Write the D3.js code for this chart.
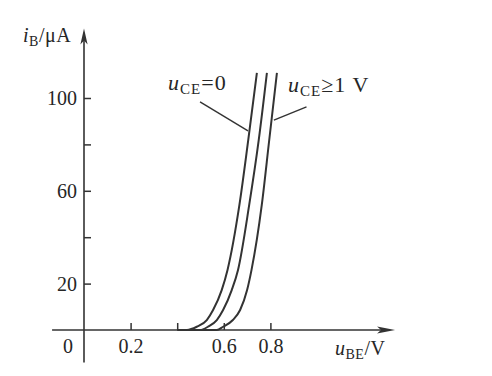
<!DOCTYPE html>
<html><head><meta charset="utf-8">
<script src="https://cdn.jsdelivr.net/npm/d3@7"></script>
<style>
body{margin:0;background:#fff}
text{font-family:"Liberation Serif","Times New Roman",serif;fill:#262626}
</style>
</head><body>
<svg id="c" width="492" height="376"></svg>
<script>
// ---- data ----
const xTicks = [0.2, 0.4, 0.6, 0.8];
const xTickLabels = ["0.2", "", "0.6", "0.8"];
const yTicks = [20, 40, 60, 80, 100];
const yTickLabels = ["20", "", "60", "", "100"];

const iB = [0, 0, 1.4, 4.3, 8.6, 17.2, 25.9, 53.9, 81.9, 110.8];
const uBE_ce0 = [0.40, 0.442, 0.484, 0.527, 0.554, 0.591, 0.616, 0.667, 0.705, 0.742];
const uBE_mid = [0.44, 0.498, 0.532, 0.570, 0.597, 0.634, 0.661, 0.709, 0.750, 0.785];
const uBE_ce1 = [0.50, 0.570, 0.597, 0.639, 0.670, 0.700, 0.719, 0.763, 0.795, 0.828];

const leaderCE0 = [[0.498, 98.3], [0.704, 85.8]];
const leaderCE1 = [[0.815, 90.5], [0.955, 96.2]];
const labelCE0 = [0.361, 103.4];
const labelCE1 = [0.876, 102.4];

// ---- scales ----
const svg = d3.select("#c");
const x = d3.scaleLinear().domain([0, 0.8]).range([84, 84 + 0.8 * 233]);
const y = d3.scaleLinear().domain([0, 100]).range([330, 98]);
const ink = "#333";
const textInk = "#262626";

// axis lines with arrows
const xMin = -0.137, xMax = 1.335, yMin = -14, yMax = 130;
svg.append("line").attr("x1", x(xMin)).attr("x2", x(xMax) - 10)
  .attr("y1", y(0)).attr("y2", y(0)).attr("stroke", ink).attr("stroke-width", 1.6);
svg.append("path")
  .attr("d", `M${x(xMax)},${y(0)} L${x(xMax) - 18},${y(0) - 3.6} L${x(xMax) - 14},${y(0)} L${x(xMax) - 18},${y(0) + 3.6} Z`)
  .attr("fill", ink);
svg.append("line").attr("x1", x(0)).attr("x2", x(0))
  .attr("y1", y(yMin)).attr("y2", y(yMax) + 10).attr("stroke", ink).attr("stroke-width", 1.6);
svg.append("path")
  .attr("d", `M${x(0)},${y(yMax)} L${x(0) - 3.6},${y(yMax) + 16} L${x(0)},${y(yMax) + 12} L${x(0) + 3.6},${y(yMax) + 16} Z`)
  .attr("fill", ink);

// x axis ticks
const gx = svg.append("g").attr("transform", `translate(0,${y(0)})`)
  .call(d3.axisBottom(x).tickValues(xTicks).tickSizeInner(-7).tickSizeOuter(0)
    .tickFormat((d, i) => xTickLabels[i]));
gx.select(".domain").remove();
gx.selectAll(".tick line").attr("stroke", ink).attr("stroke-width", 1.5);
gx.selectAll(".tick text").attr("y", 23).attr("dy", null)
  .attr("font-size", 20).attr("fill", textInk)
  .style("font-family", '"Liberation Serif", serif');

// y axis ticks
const gy = svg.append("g").attr("transform", `translate(${x(0)},0)`)
  .call(d3.axisLeft(y).tickValues(yTicks).tickSizeInner(-7).tickSizeOuter(0).tickPadding(7)
    .tickFormat((d, i) => yTickLabels[i]));
gy.select(".domain").remove();
gy.selectAll(".tick line").attr("stroke", ink).attr("stroke-width", 1.5);
gy.selectAll(".tick text").attr("font-size", 20).attr("fill", textInk)
  .style("font-family", '"Liberation Serif", serif');

// origin label
svg.append("text").attr("x", x(0) - 16).attr("y", y(0) + 23)
  .attr("text-anchor", "middle").attr("font-size", 20).text("0");

// curves
const line = d3.line().x(d => x(d[0])).y(d => y(d[1])).curve(d3.curveMonotoneX);
[uBE_ce0, uBE_mid, uBE_ce1].forEach(u => {
  svg.append("path").datum(u.map((v, i) => [v, iB[i]]))
    .attr("d", line).attr("fill", "none").attr("stroke", ink).attr("stroke-width", 2);
});

// leaders
[leaderCE0, leaderCE1].forEach(l => {
  svg.append("line").attr("x1", x(l[0][0])).attr("y1", y(l[0][1]))
    .attr("x2", x(l[1][0])).attr("y2", y(l[1][1]))
    .attr("stroke", ink).attr("stroke-width", 1.4);
});

// label helper
function sublabel(px, py, main, sub, rest, size, subSize, ls) {
  const t = svg.append("text").attr("x", px).attr("y", py).attr("font-size", size)
    .attr("letter-spacing", ls);
  t.append("tspan").attr("font-style", "italic").text(main);
  t.append("tspan").attr("font-size", subSize).attr("dy", 4).text(sub);
  t.append("tspan").attr("dy", -4).text(rest);
  return t;
}
sublabel(x(labelCE0[0]), y(labelCE0[1]), "u", "CE", "=0", 22, 15, 1);
sublabel(x(labelCE1[0]), y(labelCE1[1]), "u", "CE", "\u2265" + "1 V", 22, 15, 1);

// axis titles
sublabel(23, 42, "i", "B", "/\u03bcA", 20, 14, 0.5);
sublabel(335, 355, "u", "BE", "/V", 20, 14, 0.5);
</script>
</body></html>
